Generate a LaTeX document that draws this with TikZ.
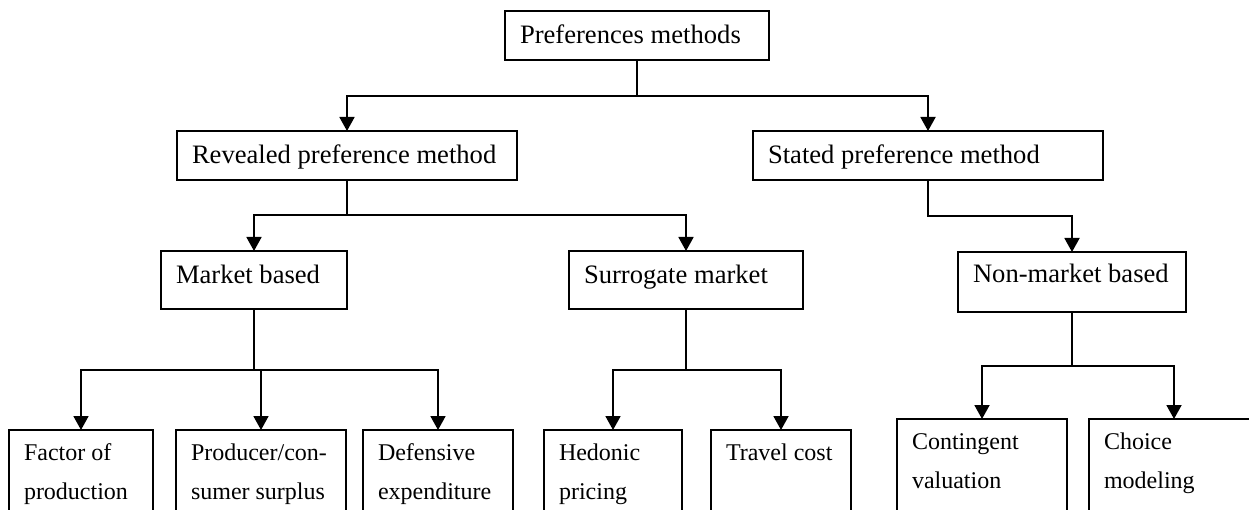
\documentclass[tikz,border=0pt]{standalone}
\usepackage{fontspec}
\setmainfont{Liberation Serif}
\usetikzlibrary{arrows.meta}
\newcommand{\fontA}{\fontsize{26.6}{32}\selectfont}
\newcommand{\fontB}{\fontsize{24}{39}\selectfont}
\newcommand{\onel}[2]{\makebox[#1][l]{#2}}
\newcommand{\twol}[3]{\parbox[t]{#1}{#2\\#3}}
\tikzset{
  box/.style={draw, line width=1.8pt, inner xsep=15pt, inner ysep=0pt, outer sep=0pt, anchor=north west},
  upper/.style={box, font=\fontA},
  lower/.style={box, font=\fontB, text height=30pt, text depth=100pt},
  arr/.style={-{Triangle[length=14pt,width=15pt]}, line width=1.8pt},
  ln/.style={line width=1.8pt}
}
\begin{document}
\begin{tikzpicture}[x=1pt,y=-1pt]
\useasboundingbox (0,0) rectangle (1249,510);
\clip (0,0) rectangle (1249,510);
\fill[white] (0,0) rectangle (1249,510);
% level 0
\node[upper, text height=33pt, text depth=16pt] (pm) at (505,11) {\onel{234pt}{Preferences methods}};
% level 1
\node[upper, text height=33pt, text depth=16pt] (rp) at (177,131) {\onel{310pt}{Revealed preference method}};
\node[upper, text height=33pt, text depth=16pt] (sp) at (753,131) {\onel{320pt}{Stated preference method}};
% level 2
\node[upper, text height=33pt, text depth=25pt] (mb) at (161,251) {\onel{156pt}{Market based}};
\node[upper, text height=33pt, text depth=25pt] (sm) at (569,251) {\onel{204pt}{Surrogate market}};
\node[upper, text height=31pt, text depth=29pt] (nm) at (958,252) {\onel{198pt}{Non-market based}};
% level 3
\node[lower] (fp) at (9,430) {\twol{114pt}{Factor of}{production}};
\node[lower] (pc) at (176,430) {\twol{140pt}{Producer/con-}{sumer surplus}};
\node[lower] (de) at (363,430) {\twol{120pt}{Defensive}{expenditure}};
\node[lower] (hp) at (544,430) {\twol{108pt}{Hedonic}{pricing}};
\node[lower] (tc) at (711,430) {\twol{110pt}{Travel cost}{}};
\node[lower] (cv) at (897,419) {\twol{140pt}{Contingent}{valuation}};
\node[lower] (cm) at (1089,419) {\twol{140pt}{Choice}{modeling}};
% junctions
\path (pm.south) ++(0,36) coordinate (j1);
\path (rp.south) ++(0,35) coordinate (j2);
\path (sp.south) ++(0,36) coordinate (j3);
\path (mb.south) ++(0,61) coordinate (j4);
\path (sm.south) ++(0,61) coordinate (j5);
\path (nm.south) ++(0,54) coordinate (j6);
% connectors
\draw[arr] (pm.south) -- (j1) -| (rp.north);
\draw[arr] (j1) -| (sp.north);
\draw[arr] (rp.south) -- (j2) -| (mb.north);
\draw[arr] (j2) -| (sm.north);
\draw[arr] (sp.south) -- (j3) -| (nm.north);
\draw[ln] (mb.south) -- (j4);
\draw[arr] (j4) -| (fp.north);
\draw[arr] (j4) -| (pc.north);
\draw[arr] (j4) -| (de.north);
\draw[ln] (sm.south) -- (j5);
\draw[arr] (j5) -| (hp.north);
\draw[arr] (j5) -| (tc.north);
\draw[ln] (nm.south) -- (j6);
\draw[arr] (j6) -| (cv.north);
\draw[arr] (j6) -| (cm.north);
\end{tikzpicture}
\end{document}
